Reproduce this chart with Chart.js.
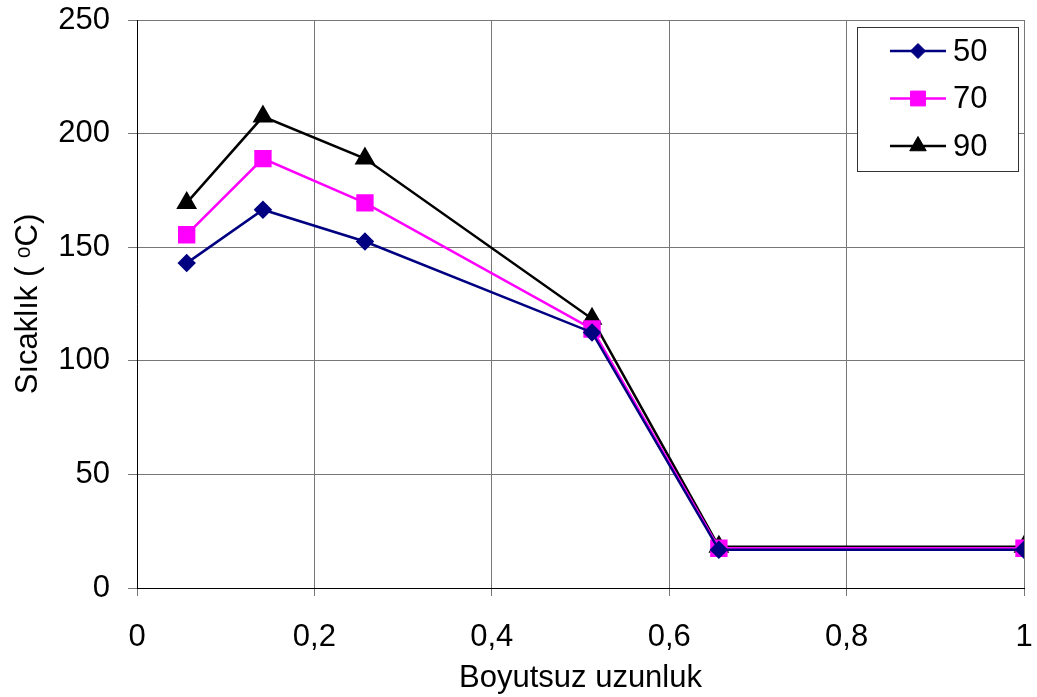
<!DOCTYPE html>
<html>
<head>
<meta charset="utf-8">
<script src="https://cdn.jsdelivr.net/npm/chart.js@4/dist/chart.umd.min.js"></script>
<style>
  html, body { margin: 0; padding: 0; background: #fff; }
  #wrap { width: 1037px; height: 697px; }
</style>
</head>
<body>
<div id="wrap"><canvas id="c"></canvas></div>
<script>
// degerler
const konum = [0.056, 0.142, 0.257, 0.513, 0.656, 1];
const seri50 = [143, 166.5, 152.5, 112.5, 16.8, 16.8];
const seri70 = [155.5, 189, 169.5, 114, 17.5, 17.5];
const seri90 = [169.5, 207.5, 189, 118.5, 18.2, 18.2];
const seriAdlari = ["50", "70", "90"];
const xTicks = [0, 0.2, 0.4, 0.6, 0.8, 1];
const yTicks = [0, 50, 100, 150, 200, 250];

const FONT = "'Liberation Sans', Arial, 'DejaVu Sans', sans-serif";

function pts(ys) {
    return konum.map((x, i) => ({ x: x, y: ys[i] }));
}

// Excel tarzi lejant: cizgi + isaret
const lejant = {
    id: "lejant",
    afterDraw(chart) {
        const ctx = chart.ctx;
        const x0 = 857, y0 = 27, w = 161, h = 144;
        ctx.save();
        ctx.fillStyle = "#fff";
        ctx.fillRect(x0, y0, w, h);
        ctx.strokeStyle = "#333";
        ctx.lineWidth = 1;
        ctx.strokeRect(x0 + 0.5, y0 + 0.5, w, h);
        chart.data.datasets.forEach((ds, i) => {
            const y = 51 + i * 47.5;
            ctx.strokeStyle = ds.borderColor;
            ctx.lineWidth = ds.borderWidth;
            ctx.beginPath();
            ctx.moveTo(890, y);
            ctx.lineTo(946, y);
            ctx.stroke();
            ctx.fillStyle = ds.pointBackgroundColor;
            ctx.strokeStyle = ds.pointBorderColor;
            ctx.lineWidth = 1;
            Chart.helpers.drawPoint(ctx, {
                pointStyle: ds.pointStyle,
                radius: ds.pointRadius,
                borderWidth: 1,
                rotation: 0
            }, 918, y);
            ctx.fillStyle = "#000";
            ctx.font = "31px " + FONT;
            ctx.textBaseline = "middle";
            ctx.textAlign = "left";
            ctx.fillText(ds.label, 953, y + 1);
        });
        ctx.restore();
    }
};

const ctx = document.getElementById("c").getContext("2d");
const grafik = new Chart(ctx, {
    type: "line",
    data: {
        datasets: [
            {
                label: seriAdlari[0],
                data: pts(seri50),
                borderColor: "#000080",
                pointBackgroundColor: "#000080",
                pointBorderColor: "#000080",
                pointStyle: "rectRot",
                pointRadius: 7.5,
                borderWidth: 2.5
            },
            {
                label: seriAdlari[1],
                data: pts(seri70),
                borderColor: "#ff00ff",
                pointBackgroundColor: "#ff00ff",
                pointBorderColor: "#ff00ff",
                pointStyle: "rect",
                pointRadius: 10.5,
                borderWidth: 2.5
            },
            {
                label: seriAdlari[2],
                data: pts(seri90),
                borderColor: "#000000",
                pointBackgroundColor: "#000000",
                pointBorderColor: "#000000",
                pointStyle: "triangle",
                pointRadius: 9.5,
                borderWidth: 2.5
            }
        ]
    },
    options: {
        responsive: true,
        maintainAspectRatio: false,
        animation: false,
        layout: { padding: { top: 20, right: 10, left: 0, bottom: 0 } },
        plugins: {
            legend: { display: false },
            tooltip: { enabled: false }
        },
        elements: { line: { tension: 0, fill: false } },
        scales: {
            x: {
                type: "linear",
                min: 0,
                max: 1,
                afterFit(s) { s.height = 109; s.paddingRight = 0; s.paddingLeft = 0; },
                afterBuildTicks(s) { s.ticks = xTicks.map(v => ({ value: v })); },
                grid: { color: "#777", lineWidth: 1, tickLength: 8, drawTicks: true },
                border: { color: "#000", width: 1 },
                ticks: {
                    color: "#000",
                    font: { family: FONT, size: 31 },
                    padding: 23,
                    maxRotation: 0,
                    callback: v => String(v).replace(".", ",")
                },
                title: {
                    display: true,
                    text: "Boyutsuz uzunluk",
                    color: "#000",
                    font: { family: FONT, size: 31 },
                    padding: { top: 0, bottom: 0 }
                }
            },
            y: {
                min: 0,
                max: 250,
                afterFit(s) { s.width = 137; s.paddingTop = 0; s.paddingBottom = 0; },
                afterBuildTicks(s) { s.ticks = yTicks.map(v => ({ value: v })); },
                grid: { color: "#777", lineWidth: 1, tickLength: 9, drawTicks: true },
                border: { color: "#000", width: 1 },
                ticks: {
                    color: "#000",
                    font: { family: FONT, size: 31 },
                    padding: 18
                },
                title: {
                    display: true,
                    text: "Sıcaklık ( ᵒC)",
                    color: "#000",
                    font: { family: FONT, size: 31 },
                    padding: { top: 10, bottom: 0 }
                }
            }
        }
    },
    plugins: [lejant]
});
</script>
</body>
</html>
